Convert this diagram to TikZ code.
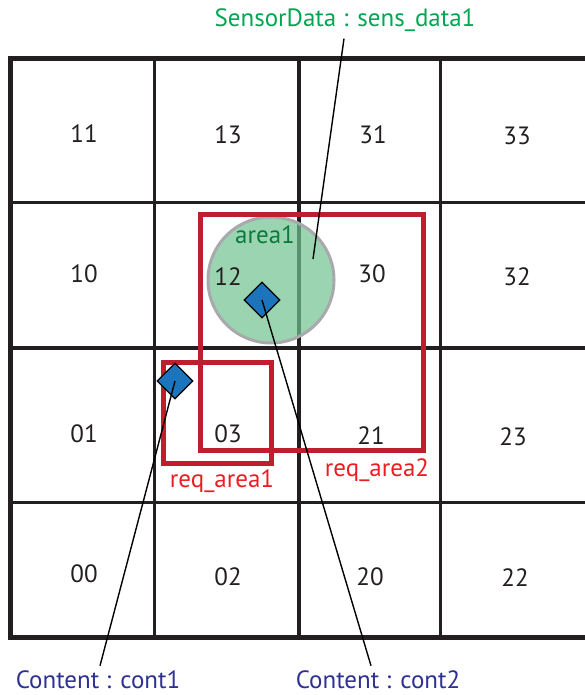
\documentclass[tikz,border=0pt]{standalone}
\usepackage{fontspec}
\setmainfont{PT Sans}
\usetikzlibrary{shapes.geometric}
\definecolor{gridk}{HTML}{231F20}
\definecolor{reqred}{HTML}{BE1E2D}
\definecolor{reqtxt}{HTML}{ED1C24}
\definecolor{sensgreen}{HTML}{00A651}
\definecolor{areagreen}{HTML}{0B7A3E}
\definecolor{areafill}{HTML}{6FC28E}
\definecolor{ringgray}{HTML}{A7A9AC}
\definecolor{contblue}{HTML}{2E3192}
\definecolor{dblue}{HTML}{1C75BC}
\tikzset{
  thinline/.style={gridk, line width=3pt},
  midline/.style={gridk, line width=4pt},
  outerline/.style={gridk, line width=5pt},
  celltext/.style={text=gridk, inner sep=0pt, font=\fontsize{25}{30}\selectfont},
  reqbox/.style={reqred, line width=5pt},
  labtext/.style={inner sep=1pt, font=\fontsize{25}{30}\selectfont},
  contentnode/.style={diamond, draw=black, line width=1.2pt, fill=dblue, minimum width=36pt, minimum height=36pt, inner sep=0pt},
  connector/.style={black, line width=1.4pt},
}
\begin{document}
\begin{tikzpicture}[x=1pt,y=-1pt]
\useasboundingbox (0,0) rectangle (585,695);
% grid
\draw[thinline] (154,59) -- (154,637);
\draw[thinline] (440,59) -- (440,637);
\draw[midline] (299,59) -- (299,637);
\draw[thinline] (10,202) -- (585,202);
\draw[thinline] (10,502) -- (585,502);
\draw[midline] (10,348) -- (585,348);
\draw[outerline] (585,59) -- (10,59) -- (10,637) -- (585,637);
% cell labels
\node[celltext] (c11) at (84,134) {11};
\node[celltext] (c13) at (228,135) {13};
\node[celltext] (c31) at (373,135) {31};
\node[celltext] (c33) at (517,136) {33};
\node[celltext] (c10) at (84,274) {10};
\node[celltext] (c30) at (372,274) {30};
\node[celltext] (c32) at (517,277) {32};
\node[celltext] (c01) at (84,434) {01};
\node[celltext] (c03) at (228,434) {03};
\node[celltext] (c21) at (371,436) {21};
\node[celltext] (c23) at (513,437) {23};
\node[celltext] (c00) at (84,574) {00};
\node[celltext] (c02) at (228,577) {02};
\node[celltext] (c20) at (370,577) {20};
\node[celltext] (c22) at (515,578) {22};
% area circle
\draw[ringgray, line width=3pt, fill=areafill, fill opacity=0.7] (271,280) circle (63);
\node[celltext] (c12) at (228,277) {12};
\node[labtext, text=areagreen] (area1) at (265,235) {area1};
% request areas
\draw[reqbox] (200,214) rectangle (423,450);
\draw[reqbox] (163,362) rectangle (271,463);
\node[labtext, text=reqtxt] (req1) at (222,481) {req\_area1};
\node[labtext, text=reqtxt] (req2) at (377,470) {req\_area2};
% contents
\node[contentnode] (d1) at (262,300) {};
\node[contentnode] (d2) at (175,381) {};
% labels
\node[labtext, text=sensgreen] (sens) at (345,20) {SensorData : sens\_data1};
\node[labtext, text=contblue] (cont1) at (98,680) {Content : cont1};
\node[labtext, text=contblue] (cont2) at (378,680) {Content : cont2};
\coordinate (sdpt) at (313,259);
% connectors
\draw[connector] (d1.center) -- ([xshift=-7pt, yshift=4pt]cont2.north);
\draw[connector] (d2.center) -- ([xshift=2pt, yshift=4pt]cont1.north);
\draw[connector] (sdpt) -- ([xshift=-1pt, yshift=-6pt]sens.south);
\end{tikzpicture}
\end{document}
